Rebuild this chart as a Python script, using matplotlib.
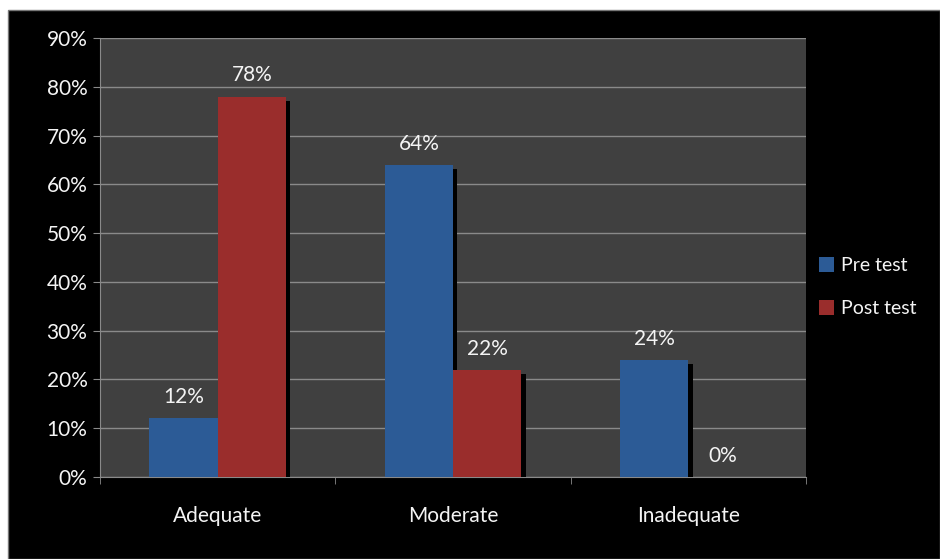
import matplotlib
matplotlib.use("Agg")
import matplotlib.pyplot as plt
import matplotlib.patheffects as pe
from matplotlib.patches import Rectangle
import numpy as np

categories = ["Adequate", "Moderate", "Inadequate"]
pre_test = [12, 64, 24]
post_test = [78, 22, 0]
series_names = ["Pre test", "Post test"]

BLUE = "#2c5b96"
RED = "#9a2d2c"
PLOT_BG = "#404040"
GRID = "#8a8a8a"
TXT = "#f4f4f4"

plt.rcParams["font.family"] = ["Lato", "DejaVu Sans"]

fig = plt.figure(figsize=(9.4, 5.59), dpi=100, facecolor="white")
# black slide background with a thin grey edge, white margin at top/left
fig.patches.append(Rectangle((8 / 940, 0), 1 - 8 / 940, (559 - 10) / 559,
                             transform=fig.transFigure, facecolor="black",
                             edgecolor="#777777", linewidth=1, zorder=-5))

ax = fig.add_axes([100 / 940, 82 / 559, 706 / 940, 439 / 559])
ax.set_facecolor(PLOT_BG)

x = np.arange(len(categories))
w = 0.29
shadow = [pe.SimplePatchShadow(offset=(3.2, -3.2), shadow_rgbFace="black", alpha=1.0),
          pe.Normal()]

b1 = ax.bar(x - w / 2, pre_test, w, color=BLUE, zorder=3, label=series_names[0])
b2 = ax.bar(x + w / 2, post_test, w, color=RED, zorder=3, label=series_names[1])
for bars, vals in ((b1, pre_test), (b2, post_test)):
    for b, v in zip(bars, vals):
        if v > 0:
            b.set_path_effects(shadow)
        ax.annotate(f"{v}%", (b.get_x() + b.get_width() / 2, v),
                    xytext=(0, 8), textcoords="offset points",
                    ha="center", va="bottom", color=TXT, fontsize=15)

ax.set_xlim(-0.5, len(categories) - 0.5)
ax.set_ylim(0, 90)
ax.set_yticks(np.arange(0, 91, 10))
ax.set_yticklabels([f"{t}%" for t in range(0, 91, 10)])
ax.yaxis.grid(True, color=GRID, linewidth=1)
ax.set_axisbelow(True)

ax.set_xticks(x)
ax.set_xticklabels(categories)
ax.set_xticks(np.arange(-0.5, len(categories)), minor=True)
ax.tick_params(axis="x", which="major", length=0, pad=21, colors=TXT, labelsize=15)
ax.tick_params(axis="x", which="minor", length=5, color=GRID, direction="out")
ax.tick_params(axis="y", length=5, color=GRID, colors=TXT, labelsize=15, pad=4)

for s in ("top", "right"):
    ax.spines[s].set_visible(False)
for s in ("left", "bottom"):
    ax.spines[s].set_color(GRID)

leg = fig.legend(handles=[b1, b2], labels=series_names,
                 loc="center left", bbox_to_anchor=(801 / 940, 1 - 287 / 559),
                 frameon=False, fontsize=14, labelcolor=TXT,
                 handlelength=0.8, handleheight=0.8, handletextpad=0.35,
                 labelspacing=1.35)
for h in leg.legend_handles:
    h.set_path_effects([])

fig.savefig("out.png", dpi=100, facecolor=fig.get_facecolor())
